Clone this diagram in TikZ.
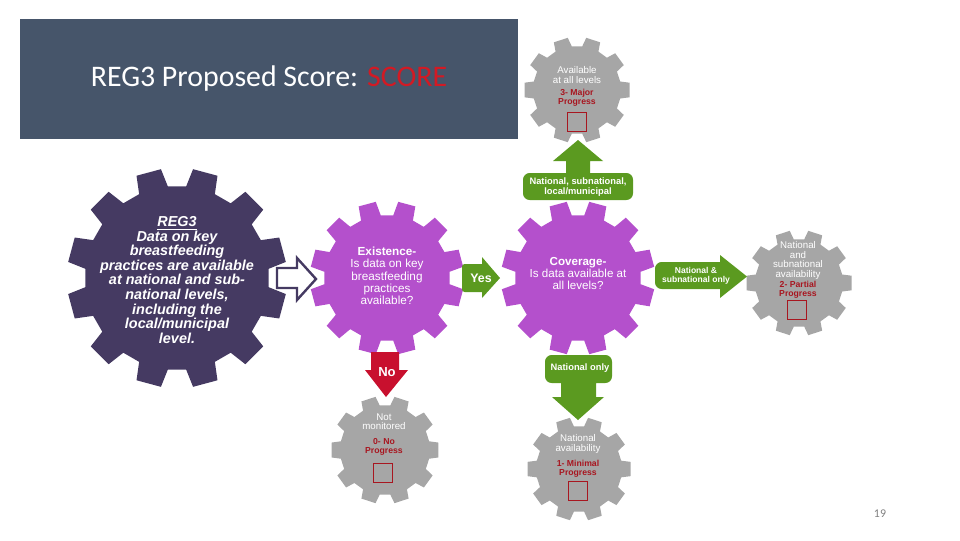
\documentclass[tikz,border=0pt]{standalone}
\usepackage{fontspec}
\setmainfont{Liberation Sans}
\newfontfamily\calibri{Carlito}
\usetikzlibrary{positioning,calc}

\definecolor{hdrblue}{RGB}{70,85,106}
\definecolor{regpurple}{RGB}{69,58,98}
\definecolor{qpurple}{RGB}{180,80,204}
\definecolor{cogray}{RGB}{166,166,166}
\definecolor{arrgreen}{RGB}{91,154,32}
\definecolor{nored}{RGB}{200,16,46}
\definecolor{lvlred}{RGB}{168,22,32}
\definecolor{scorered}{RGB}{210,26,36}

% gear: centre, outer radius, root radius, teeth, offset, colour
\newcommand\cog[6]{%
  \pgfmathsetmacro\cogstep{360/#4}%
  \pgfmathtruncatemacro\coglast{#4-1}%
  \begin{scope}[shift={(#1)}]
  \fill[#6] (#5-0.31*\cogstep:#3)
    \foreach \k in {0,...,\coglast}{
      -- (#5+\k*\cogstep-0.31*\cogstep:#3) -- (#5+\k*\cogstep-0.22*\cogstep:#2)
      -- (#5+\k*\cogstep+0.22*\cogstep:#2) -- (#5+\k*\cogstep+0.31*\cogstep:#3)}
    -- cycle;
  \end{scope}}

\begin{document}
\begin{tikzpicture}[
x=0.75pt, y=-0.75pt,
wtxt/.style={text=white, align=center, inner sep=0pt},
gtxt/.style={wtxt, font=\fontsize{7.3pt}{7.2pt}\selectfont},
lvl/.style={text=lvlred, align=center, inner sep=0pt, font=\bfseries\fontsize{6.5pt}{7pt}\selectfont},
scorebox/.style={draw=lvlred, line width=0.6pt, minimum size=14.2pt, inner sep=0pt},
arrlbl/.style={wtxt, font=\bfseries\fontsize{7pt}{7.5pt}\selectfont}
]
\useasboundingbox (0,0) rectangle (960,540);

% title bar
\node[fill=hdrblue, minimum width=373.5pt, minimum height=90pt, inner sep=0pt,
  text=white, font=\calibri\fontsize{22.4pt}{24pt}\selectfont] (title) at (269,79)
  {REG3 Proposed Score: \textcolor{scorered}{SCORE}};

% gears
\cog{177,278}{110}{92}{12}{15}{regpurple}
\cog{387,278}{77}{63}{12}{15}{qpurple}
\cog{578,278}{77}{63}{12}{15}{qpurple}
\cog{577,90}{53}{44}{10}{0}{cogray}
\cog{799,283}{53}{44}{10}{0}{cogray}
\cog{385,450}{54}{45}{10}{0}{cogray}
\cog{579,469}{52}{43}{10}{0}{cogray}

% gear texts
\node[wtxt, font=\bfseries\itshape\fontsize{10.8pt}{10.9pt}\selectfont] (reg) at (177,280)
  {\underline{REG3}\\Data on key\\breastfeeding\\practices are available\\at national and sub-\\national levels,\\including the\\local/municipal\\level.};
\node[wtxt, font=\fontsize{8.8pt}{9.2pt}\selectfont] (exist) at (387,276)
  {\textbf{Existence-}\\Is data on key\\breastfeeding\\practices\\available?};
\node[wtxt, font=\fontsize{8.7pt}{9pt}\selectfont] (cover) at (578,273)
  {\textbf{Coverage-}\\Is data available at\\all levels?};

\node[gtxt] (allvl) at (577,75) {Available\\at all levels};
\node[lvl] (major) at (577,98) {3- Major\\Progress};
\node[scorebox] (majorbox) at (577,122) {};

\node[gtxt] (natsubav) at (798,260.5) {National\\and\\subnational\\availability};
\node[lvl] (partial) at (798,290) {2- Partial\\Progress};
\node[scorebox] (partialbox) at (797,310) {};

\node[gtxt] (notmon) at (384,421.5) {Not\\monitored};
\node[lvl] (none) at (384,447) {0- No\\Progress};
\node[scorebox] (nonebox) at (383,472.5) {};

\node[gtxt] (natav) at (578,444) {National\\availability};
\node[lvl] (minimal) at (578,468.5) {1- Minimal\\Progress};
\node[scorebox] (minimalbox) at (578,491) {};

% arrows
\draw[regpurple, line width=1.8pt, fill=white, line join=miter]
  (277,268) -- (297,268) -- (297,258) -- (316,279) -- (297,300) -- (297,288) -- (277,288) -- cycle;

\fill[arrgreen] (500,278) -- (482,298) -- (482,292) [rounded corners=2pt] -- (462,292)
  -- (462,264) [sharp corners] -- (482,264) -- (482,257) -- cycle;
\node[wtxt, font=\bfseries\fontsize{9.3pt}{10pt}\selectfont] (yes) at (481,278) {Yes};

\fill[nored] (386,397) -- (365,370) -- (371,370) -- (371,352) -- (399,352) -- (399,370) -- (408,370) -- cycle;
\node[wtxt, font=\bfseries\fontsize{9.8pt}{10pt}\selectfont] (no) at (387,372) {No};

\fill[arrgreen] (578,140) -- (603,161) -- (590,161) -- (590,173) [rounded corners=5pt] -- (633,173)
  -- (633,200) -- (523,200) -- (523,173) [sharp corners] -- (566,173) -- (566,161) -- (553,161) -- cycle;
\node[arrlbl] (natall) at (578,187) {National, subnational,\\local/municipal};

\fill[arrgreen] (747,276.5) -- (720,298) -- (720,289) [rounded corners=5pt] -- (655,289)
  -- (655,262) [sharp corners] -- (720,262) -- (720,255) -- cycle;
\node[arrlbl, font=\bfseries\fontsize{6.4pt}{6.8pt}\selectfont] (natsub) at (696,275.5) {National \&\\subnational only};

\fill[arrgreen] (578,420) -- (552,397) -- (561,397) -- (561,383) [rounded corners=5pt] -- (545,383)
  -- (545,355) -- (612,355) -- (612,383) [sharp corners] -- (596,383) -- (596,397) -- (604,397) -- cycle;
\node[arrlbl] (natonly) at (580,368) {National only};

% page number
\node[text=gray, font=\calibri\fontsize{8.9pt}{10pt}\selectfont] (pgno) at (880,514) {19};
\end{tikzpicture}
\end{document}
